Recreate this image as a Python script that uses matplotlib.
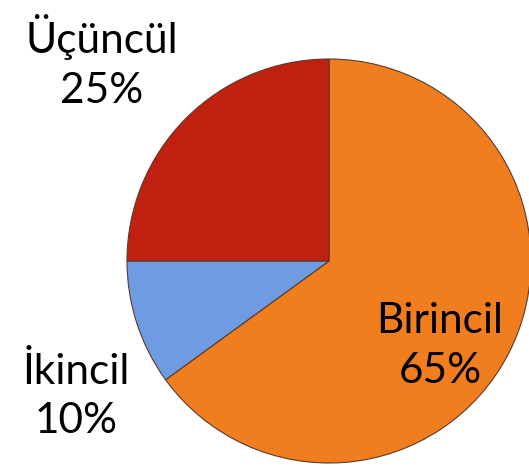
import matplotlib
matplotlib.use("Agg")
import matplotlib.pyplot as plt

# slice data, clockwise from 12 o'clock
names = ["Birincil", "İkincil", "Üçüncül"]
shares = [65, 10, 25]
colors = ["#F07D1E", "#6E9BE2", "#BF2010"]

# label anchor points (pixel coords, y from top)
label_x = [440, 76, 102]
label_y = [346, 396, 62]

W, H = 529, 468
fig = plt.figure(figsize=(W / 100, H / 100), dpi=100)
ax = fig.add_axes([0, 0, 1, 1])

wedges, _ = ax.pie(shares, colors=colors, startangle=90, counterclock=False,
                   center=(329, H - 261), radius=202,
                   wedgeprops=dict(edgecolor="#5a3a2a", linewidth=0.8))
ax.set_xlim(0, W)
ax.set_ylim(0, H)
ax.set_aspect("equal")
ax.axis("off")

for n, s, x, y in zip(names, shares, label_x, label_y):
    ax.text(x, H - y, f"{n}\n{s}%", ha="center", va="center", fontsize=30.5,
            family="Lato", linespacing=1.38, color="black")

fig.savefig("out.png", dpi=100)
